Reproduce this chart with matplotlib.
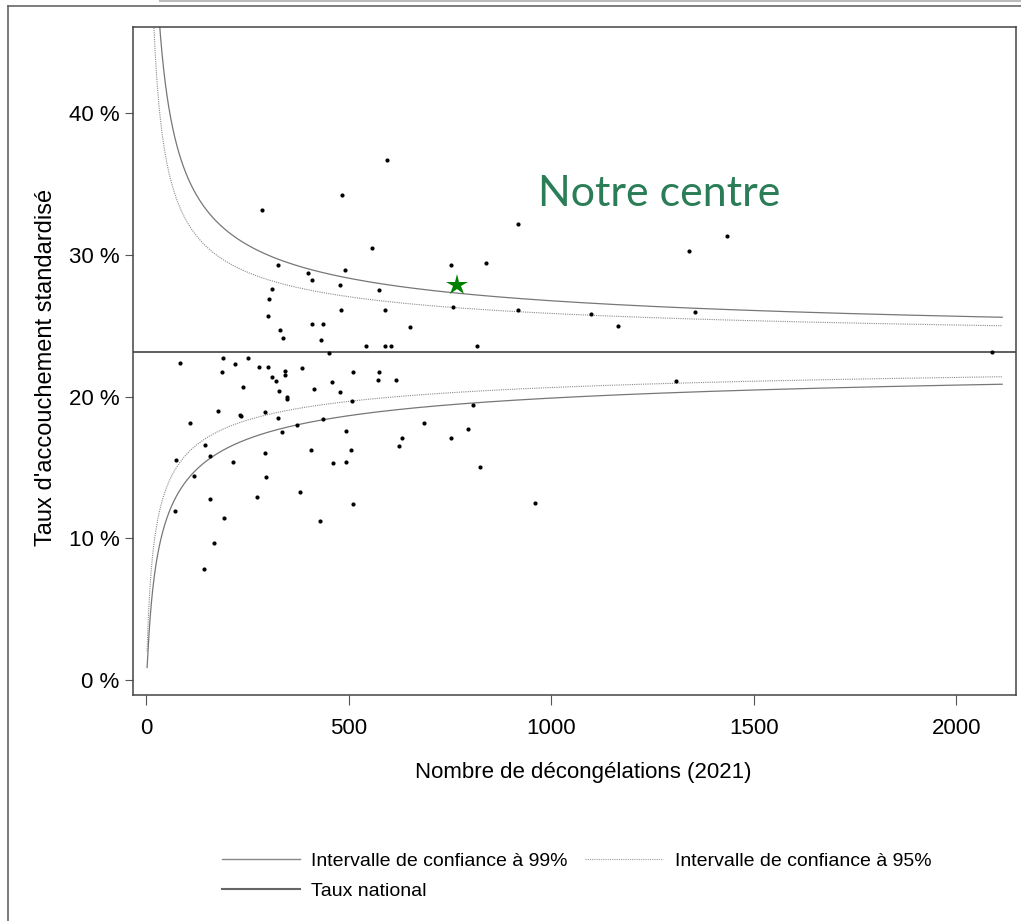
import numpy as np
import matplotlib.pyplot as plt
from matplotlib.lines import Line2D

# nombre de décongélations et taux standardisé (%) par centre
thaws = [287, 595, 485, 919, 557, 326, 839, 754, 400, 492, 410, 479, 312, 576, 303,
         757, 591, 481, 918, 301, 652, 411, 438, 330, 338, 432, 542, 590, 605, 818,
         452, 191, 251, 1435, 1339, 1099, 1354, 1164, 1307, 2088,
         84, 221, 188, 280, 302, 312, 320, 344, 343, 386, 240, 329, 414, 459, 479,
         511, 576, 572, 617, 349, 348, 508, 178, 233, 235, 294, 326, 109, 336, 372,
         437, 494, 806, 687, 795, 753, 631, 624, 147, 158, 75, 215, 294, 408, 507,
         461, 493, 120, 297, 825, 159, 275, 381, 511, 960, 73, 193, 429, 169, 144]
rates = [33.2, 36.7, 34.2, 32.2, 30.5, 29.3, 29.4, 29.3, 28.7, 28.9, 28.2, 27.9, 27.6, 27.5, 26.9,
         26.3, 26.1, 26.1, 26.1, 25.7, 24.9, 25.1, 25.1, 24.7, 24.1, 24.0, 23.6, 23.6, 23.6, 23.6,
         23.1, 22.7, 22.7, 31.3, 30.3, 25.8, 26.0, 25.0, 21.1, 23.15,
         22.4, 22.3, 21.7, 22.1, 22.1, 21.4, 21.1, 21.8, 21.5, 22.0, 20.7, 20.4, 20.5, 21.0, 20.3,
         21.7, 21.7, 21.2, 21.2, 19.95, 19.8, 19.7, 19.0, 18.7, 18.6, 18.9, 18.5, 18.1, 17.5, 18.0,
         18.4, 17.6, 19.4, 18.1, 17.7, 17.1, 17.1, 16.5, 16.6, 15.8, 15.5, 15.4, 16.0, 16.25, 16.2,
         15.3, 15.4, 14.4, 14.35, 15.0, 12.8, 12.9, 13.3, 12.4, 12.5, 11.95, 11.4, 11.2, 9.7, 7.8]

ourThaws = 768
ourRate = 27.9
nationalRate = 23.15

# bornes de l'entonnoir (échelle logit)
nMin, nMax = 3, 2113
z99, z95 = 2.576, 1.96

plt.rcParams['font.family'] = ['Liberation Sans', 'DejaVu Sans']

def funnel(n, p, z):
    se = z / np.sqrt(n * p * (1 - p))
    lp = np.log(p / (1 - p))
    return 100 / (1 + np.exp(-(lp + se))), 100 / (1 + np.exp(-(lp - se)))

fig = plt.figure(figsize=(10.21, 9.21), dpi=100)
ax = fig.add_axes([133.3 / 1021, 1 - 695 / 921, (1016 - 133.3) / 1021, (695 - 27.3) / 921])

n = np.arange(nMin, nMax + 1, dtype=float)
p0 = nationalRate / 100
up99, lo99 = funnel(n, p0, z99)
up95, lo95 = funnel(n, p0, z95)

ax.plot(n, up99, color='#777777', lw=0.9)
ax.plot(n, lo99, color='#777777', lw=0.9)
ax.plot(n, up95, color='#8a8a8a', lw=0.8, ls=(0, (1, 1)))
ax.plot(n, lo95, color='#8a8a8a', lw=0.8, ls=(0, (1, 1)))
ax.axhline(nationalRate, color='#333333', lw=1.1)

ax.plot(thaws, rates, 'o', color='black', ms=3.0, mew=0)
ax.plot(ourThaws, ourRate, '*', color='#008000', ms=16, mew=0)

ax.text(0.4585, 0.7328, 'Notre centre', transform=ax.transAxes, family='Lato',
        fontsize=31, color='#2b7d57', va='baseline', ha='left')

ax.set_xlim(-31, 2147)
ax.set_ylim(-1.06, 46.06)
ax.set_xticks([0, 500, 1000, 1500, 2000])
ax.set_yticks([0, 10, 20, 30, 40])
ax.set_yticklabels(['0 %', '10 %', '20 %', '30 %', '40 %'])
ax.tick_params(axis='x', length=7.5, width=0.8, color='#555555', pad=9, labelsize=16)
ax.tick_params(axis='y', length=6, width=0.8, color='#555555', pad=4, labelsize=16)
for s in ax.spines.values():
    s.set_color('#444444')
    s.set_linewidth(1.1)

ax.set_xlabel('Nombre de décongélations (2021)', fontsize=16)
ax.xaxis.set_label_coords(0.51, -0.1)
ax.set_ylabel("Taux d'accouchement standardisé", fontsize=17)
ax.yaxis.set_label_coords(-0.087, 0.49)

handles = [Line2D([], [], color='#888888', lw=1),
           Line2D([], [], color='#666666', lw=1.5),
           Line2D([], [], color='#999999', lw=0.8, ls=(0, (1, 1)))]
labels = ['Intervalle de confiance à 99%', 'Taux national', 'Intervalle de confiance à 95%']
fig.legend(handles, labels, ncol=2, frameon=False, fontsize=14, loc='upper left',
           bbox_to_anchor=(222 / 1021, 1 - 852 / 921), borderpad=0, borderaxespad=0,
           handlelength=4, handletextpad=0.6, columnspacing=0.9, labelspacing=0.65)

# cadre extérieur
fig.add_artist(Line2D([8 / 1021, 8 / 1021], [0, 1 - 6 / 921], color='#666666', lw=1.2))
fig.add_artist(Line2D([8 / 1021, 1], [1 - 6 / 921, 1 - 6 / 921], color='#666666', lw=1.2))
fig.add_artist(Line2D([160 / 1021, 1], [1 - 1 / 921, 1 - 1 / 921], color='#bbbbbb', lw=1.5))

fig.savefig('out.png', dpi=100)
